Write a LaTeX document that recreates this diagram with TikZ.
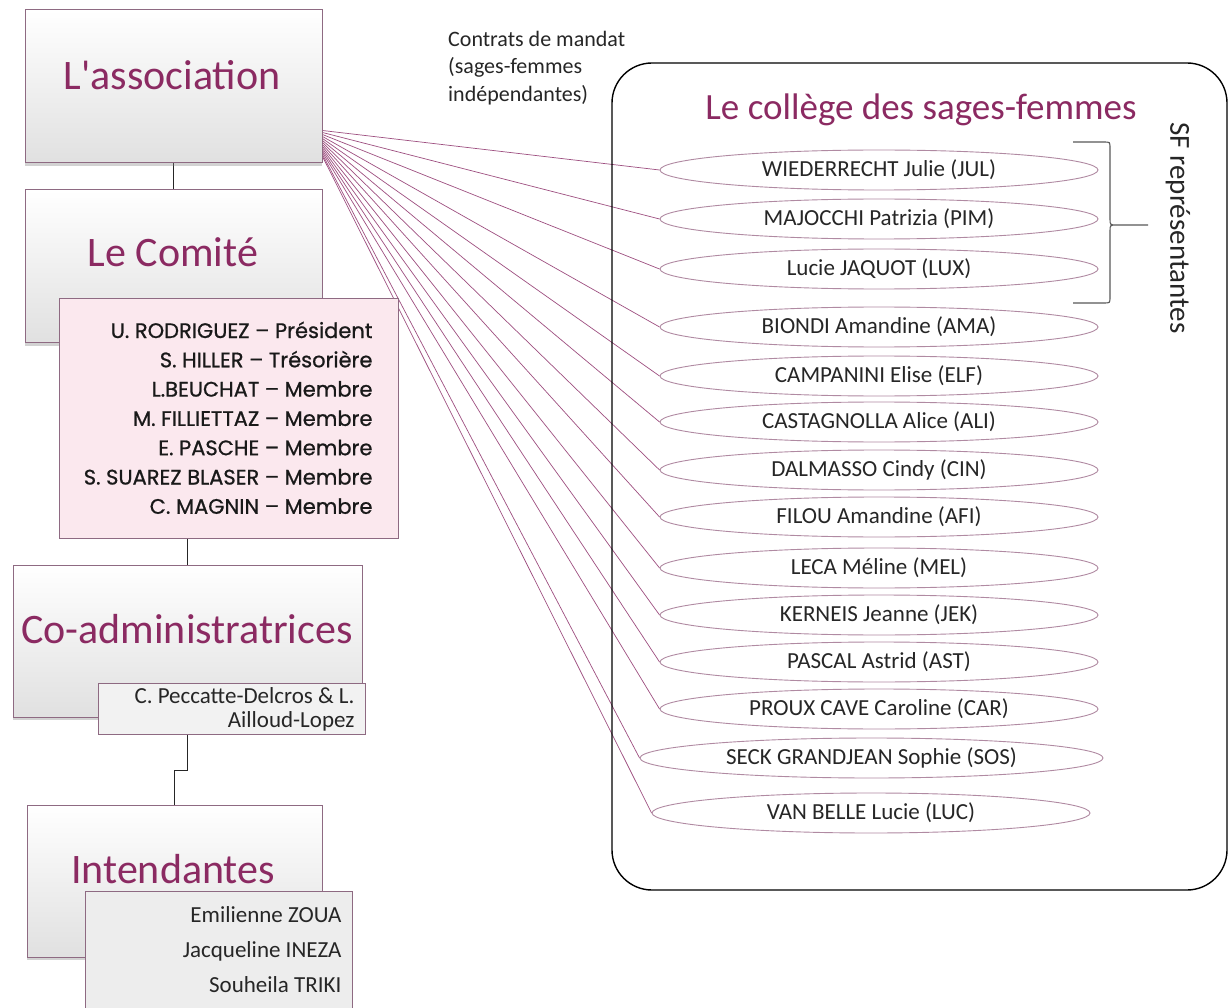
\documentclass[tikz,border=0pt]{standalone}
\usepackage{fontspec}
\setmainfont{Carlito}
\newfontfamily\membfont[FakeBold=0.8]{Poppins}
\usetikzlibrary{shapes.geometric,shadows,backgrounds,calc}
\definecolor{plum}{HTML}{8B2A62}
\definecolor{boxline}{HTML}{8E6A82}
\definecolor{fanline}{HTML}{9E4F80}
\definecolor{sfline}{HTML}{B08AA2}
\definecolor{txt}{HTML}{262626}
\definecolor{membfill}{HTML}{FBE8EE}
\begin{document}
\begin{tikzpicture}[x=1pt,y=-1pt,
  bigbox/.style={draw=boxline,line width=1pt,top color=white,bottom color=black!12,
    drop shadow={shadow xshift=0pt,shadow yshift=-3pt,opacity=.35},inner sep=0},
  subbox/.style={draw=boxline,line width=.8pt,inner sep=0},
  titre/.style={anchor=base,text=plum,font=\fontsize{42}{50}\selectfont},
  nom/.style={anchor=base east,text=txt,font=\fontsize{23}{27}\selectfont},
  sf/.style={ellipse,draw=sfline,line width=.9pt,fill=white,minimum height=40,inner sep=0,
    text height=14pt,text depth=1pt,text=txt,font=\fontsize{23}{27}\selectfont},
  fan/.style={fanline,line width=.7pt},
  lien/.style={black!85,line width=1.6pt}]
\useasboundingbox (0,0) rectangle (1229,1008);
%
% organigramme a gauche
\node[bigbox,minimum width=297,minimum height=153] (asso) at (173.5,86.5) {};
\node[titre] (assoT) at (172,90) {L\textquotesingle association};
\node[bigbox,minimum width=297,minimum height=153] (comite) at (173.5,266.5) {};
\node[titre] (comiteT) at (173,267) {Le Comité};
\node[subbox,fill=membfill,minimum width=339,minimum height=240] (memb) at (228.5,418) {};
\foreach \t [count=\i from 0] in {U. RODRIGUEZ – Président,S. HILLER – Trésorière,
  L.BEUCHAT – Membre,M. FILLIETTAZ – Membre,E. PASCHE – Membre,
  S. SUAREZ BLASER – Membre,C. MAGNIN – Membre}
  \node[nom,text=black!90,font=\membfont\fontsize{21}{25}\selectfont] (m\i) at (376,338+29.3*\i) {\t};
\node[bigbox,minimum width=349,minimum height=152] (coadm) at (187.5,641) {};
\node[titre] (coadmT) at (187,643) {Co-administratrices};
\node[subbox,fill=black!5,minimum width=267,minimum height=51] (cadsub) at (231.5,708.5) {};
\node[nom] (ca1) at (358,703) {C. Peccatte-Delcros \& L.};
\node[nom] (ca2) at (358,727) {Ailloud-Lopez};
\node[bigbox,minimum width=295,minimum height=152] (intd) at (174.5,881) {};
\node[titre] (intdT) at (173,883) {Intendantes};
\node[subbox,fill=black!7,minimum width=267,minimum height=139] (intsub) at (218.5,960.5) {};
\foreach \t [count=\i from 0] in {Emilienne ZOUA,Jacqueline INEZA,Souheila TRIKI}
  \node[nom] (i\i) at (345,922+35*\i) {\t};
%
% college des sages-femmes
\node[anchor=north west,align=left,inner sep=0,text=txt,font=\fontsize{22}{27.5}\selectfont]
  (contrat) at (448,31) {Contrats de mandat\\(sages-femmes\\indépendantes)};
\node[draw=black,line width=1.4pt,rounded corners=40pt,minimum width=615,minimum height=827]
  (college) at (919.5,476.5) {};
\node[titre,font=\fontsize{37}{44}\selectfont] (collegeT) at (921,120) {Le collège des sages-femmes};
\foreach \n/\y/\t in {jul/170/WIEDERRECHT Julie (JUL),pim/219/MAJOCCHI Patrizia (PIM),
  lux/269/Lucie JAQUOT (LUX),ama/327/BIONDI Amandine (AMA),elf/376/CAMPANINI Elise (ELF),
  ali/422/CASTAGNOLLA Alice (ALI),cin/470/DALMASSO Cindy (CIN),afi/517/FILOU Amandine (AFI),
  mel/568/LECA Méline (MEL),jek/615/KERNEIS Jeanne (JEK),ast/662/PASCAL Astrid (AST),
  car/709/PROUX CAVE Caroline (CAR)}
  \node[sf,minimum width=438] (\n) at (879,\y) {\t};
\node[sf,minimum width=463] (sos) at (871.5,758) {SECK GRANDJEAN Sophie (SOS)};
\node[sf,minimum width=438] (luc) at (871,813) {VAN BELLE Lucie (LUC)};
%
% accolade
\draw[black!65,line width=1.1pt] (1073,142) -- (1104,142) .. controls (1110,142) .. (1110,148)
  -- (1110,219) .. controls (1110,225) .. (1117,225) .. controls (1110,225) .. (1110,231)
  -- (1110,297) .. controls (1110,303) .. (1104,303) -- (1073,303)
  (1117,225) -- (1148,225);
\node[rotate=-90,text=txt,font=\fontsize{29}{34}\selectfont] (sfrep) at (1178,228) {SF représentantes};
%
\begin{scope}[on background layer]
\fill[white] (0,0) rectangle (1229,1008);
\draw[lien] (asso.south) -- (comite.north);
\draw[lien] (coadm.north) -- (coadm.north |- memb.south);
\draw[lien] (coadm.north |- cadsub.south) -- ++(0,36) -| (intd.north);
\foreach \n [count=\i from 0] in {jul,pim,lux,ama,elf,ali,cin,afi,mel,jek,ast,car,sos,luc}
  \draw[fan] ($(asso.south east)+(0,-33+2*\i)$) -- (\n.west);
\end{scope}
\end{tikzpicture}
\end{document}
